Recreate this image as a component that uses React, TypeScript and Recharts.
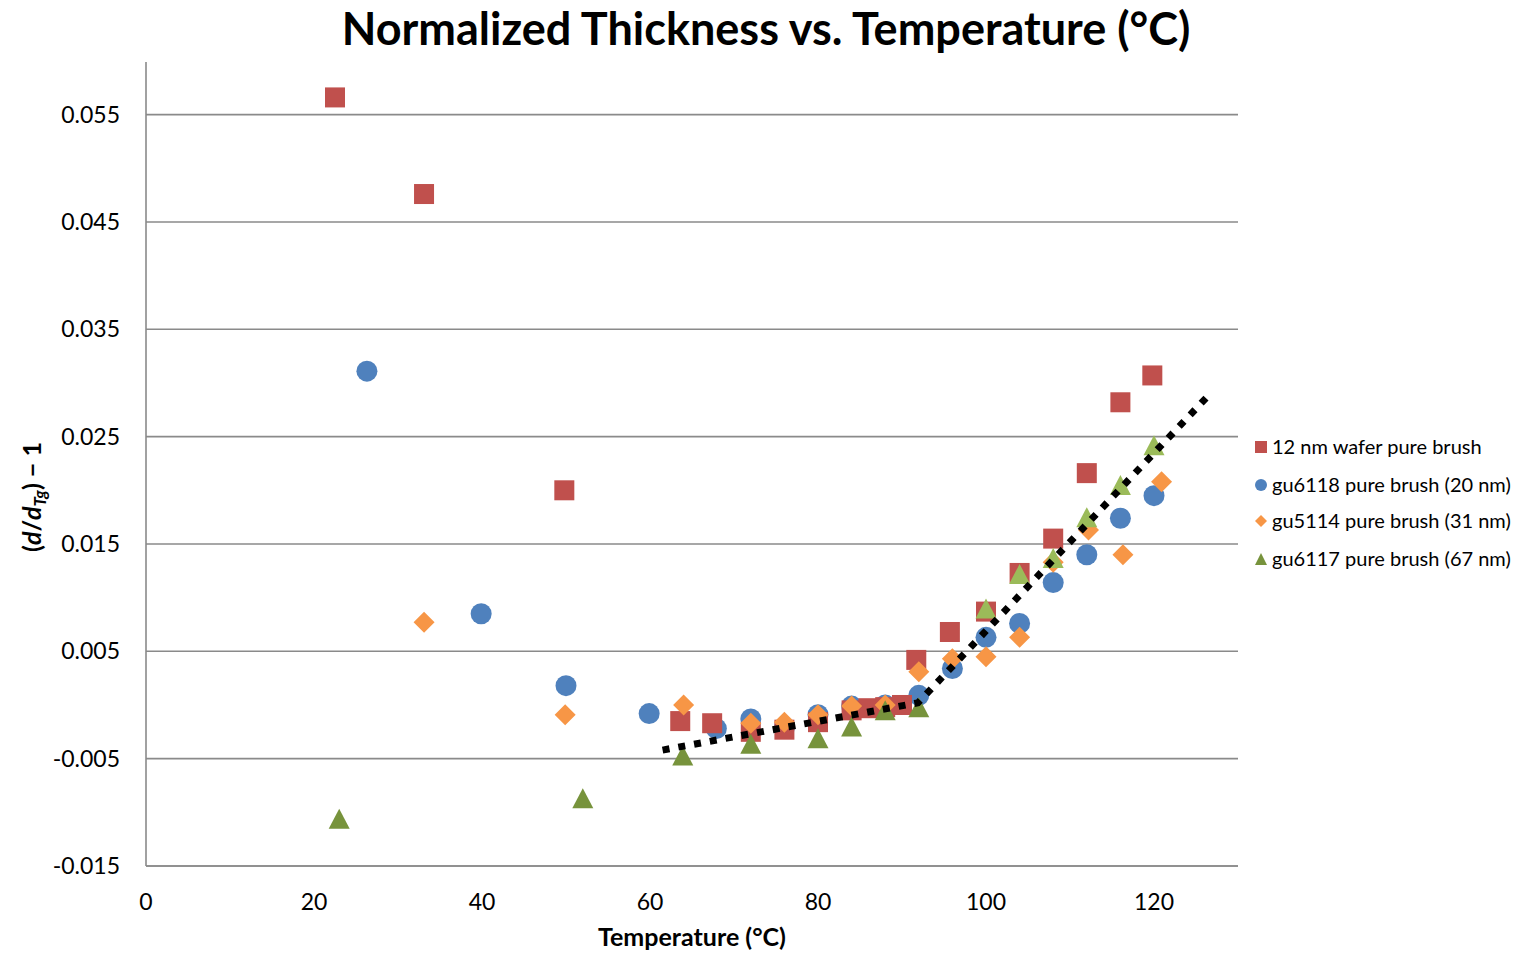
import React from 'react';
import { ScatterChart, Scatter, XAxis, YAxis, CartesianGrid, Cell } from 'recharts';

// ---- data ----
const wafer12X = [22.5, 33.1, 49.8, 63.6, 67.4, 72, 76, 80, 84, 86, 88, 90, 91.7, 95.7, 100, 104, 108, 112, 116, 119.8];
const wafer12Y = [0.0566, 0.0476, 0.02, -0.0015, -0.0017, -0.0025, -0.0023, -0.0016, -0.0005, -0.0003, -0.0002, 0.0, 0.0042, 0.0068, 0.0087, 0.0123, 0.0155, 0.0216, 0.0282, 0.0307];

const gu6118X = [26.3, 39.9, 50, 59.9, 67.9, 72, 76, 80, 84, 88, 92, 96, 100, 104, 108, 112, 116, 120];
const gu6118Y = [0.0311, 0.0085, 0.0018, -0.0008, -0.0022, -0.0013, -0.0021, -0.0009, -0.0001, 0.0, 0.0009, 0.0034, 0.0063, 0.0076, 0.0114, 0.014, 0.0174, 0.0195];

const gu5114X = [33.1, 49.9, 64, 72, 76, 80, 84, 88, 92, 96, 100, 104, 108, 112.2, 116.3, 120.9];
const gu5114Y = [0.0077, -0.0009, 0.0, -0.0017, -0.0016, -0.0009, -0.0001, 0.0, 0.0031, 0.0043, 0.0045, 0.0063, 0.0133, 0.0163, 0.014, 0.0208];

const gu6117X = [23, 52, 63.9, 72, 80, 84, 88, 92, 100, 104, 108, 112, 116, 120];
const gu6117Y = [-0.0106, -0.0087, -0.0047, -0.0036, -0.0031, -0.002, -0.0005, -0.0002, 0.009, 0.0122, 0.0137, 0.0175, 0.0205, 0.0242];

const trendX = [61.5, 91.9, 126.2];
const trendY = [-0.0042, 0.0002, 0.0286];

const xTicks = [0, 20, 40, 60, 80, 100, 120];
const yTicks = [-0.015, -0.005, 0.005, 0.015, 0.025, 0.035, 0.045, 0.055];
const Y_MIN = -0.015;
const Y_MAX = 0.0599;

const seriesNames = [
  '12 nm wafer pure brush',
  'gu6118 pure brush (20 nm)',
  'gu5114 pure brush (31 nm)',
  'gu6117 pure brush (67 nm)',
];

const zip = (xs: number[], ys: number[]) => xs.map((x, i) => ({ x, y: ys[i] }));

const wafer12 = zip(wafer12X, wafer12Y);
const gu6118 = zip(gu6118X, gu6118Y);
const gu5114 = zip(gu5114X, gu5114Y);
const gu6117 = zip(gu6117X, gu6117Y);
const trend = zip(trendX, trendY);

// ---- styles ----
const RED = '#C0504D';
const BLUE = '#4F81BD';
const ORANGE = '#F79646';
const GREEN_DARK = '#77933C';
const GREEN_LIGHT = '#9BBB59';
const GRID = '#8a8a8a';
const FONT = 'Lato, "Open Sans", sans-serif';

const SquareShape = (p: any) => (
  <rect x={p.cx - 10} y={p.cy - 10} width={20} height={20} fill={p.fill} />
);
const CircleShape = (p: any) => <circle cx={p.cx} cy={p.cy} r={10.5} fill={p.fill} />;
const DiamondShape = (p: any) => (
  <polygon
    points={`${p.cx},${p.cy - 10.5} ${p.cx + 10.5},${p.cy} ${p.cx},${p.cy + 10.5} ${p.cx - 10.5},${p.cy}`}
    fill={p.fill}
  />
);
const TriangleShape = (p: any) => (
  <polygon
    points={`${p.cx},${p.cy - 10} ${p.cx + 10.5},${p.cy + 10} ${p.cx - 10.5},${p.cy + 10}`}
    fill={p.fill}
  />
);
const NoShape = () => <g />;

const XLabel = (props: any) => {
  const vb = props.viewBox || {};
  return (
    <text
      x={vb.x + vb.width / 2}
      y={946}
      textAnchor="middle"
      fontFamily={FONT}
      fontWeight="bold"
      fontSize={25}
      fill="#000"
    >
      Temperature (°C)
    </text>
  );
};

const YLabel = (props: any) => {
  const vb = props.viewBox || {};
  const cx = 41;
  const cy = vb.y + vb.height / 2 + 33;
  return (
    <text
      x={cx}
      y={cy}
      transform={`rotate(-90 ${cx} ${cy})`}
      textAnchor="middle"
      fontFamily={FONT}
      fontWeight="bold"
      fontSize={25}
      fill="#000"
    >
      (<tspan fontStyle="italic">d</tspan>/<tspan fontStyle="italic">d</tspan>
      <tspan fontStyle="italic" fontSize={17} dy={5}>Tg</tspan>
      <tspan dy={-5}>) − 1</tspan>
    </text>
  );
};

const legendMarker = (i: number, cx: number, cy: number) => {
  if (i === 0) return <rect x={cx - 6} y={cy - 6} width={12} height={12} fill={RED} />;
  if (i === 1) return <circle cx={cx} cy={cy} r={6} fill={BLUE} />;
  if (i === 2)
    return (
      <polygon points={`${cx},${cy - 6} ${cx + 6},${cy} ${cx},${cy + 6} ${cx - 6},${cy}`} fill={ORANGE} />
    );
  return (
    <polygon points={`${cx},${cy - 6} ${cx + 6},${cy + 6} ${cx - 6},${cy + 6}`} fill={GREEN_DARK} />
  );
};

const legendRows = [447, 485, 521, 559];

const gridRows = (args: any) => {
  const off = (args && args.offset) || {};
  const top = typeof off.top === 'number' ? off.top : 62;
  const h = typeof off.height === 'number' ? off.height : 804;
  return yTicks.map((t) => top + ((Y_MAX - t) / (Y_MAX - Y_MIN)) * h);
};

export default function App() {
  return (
    <div style={{ position: 'absolute', left: 0, top: 0, width: 1522, height: 953, background: '#fff' }}>
      <ScatterChart
        width={1522}
        height={953}
        margin={{ top: 62, right: 284, bottom: 0, left: 0 }}
      >
        <CartesianGrid
          vertical={false}
          stroke={GRID}
          strokeWidth={1.6}
          horizontalCoordinatesGenerator={gridRows}
        />
        <XAxis
          type="number"
          dataKey="x"
          domain={[0, 130]}
          ticks={xTicks}
          allowDataOverflow
          height={87}
          tickLine={false}
          tickSize={0}
          tickMargin={28}
          axisLine={{ stroke: GRID, strokeWidth: 1.6 }}
          tick={{ fontFamily: FONT, fontSize: 23, fill: '#000' }}
          label={<XLabel />}
        />
        <YAxis
          type="number"
          dataKey="y"
          domain={[Y_MIN, Y_MAX]}
          ticks={yTicks}
          allowDataOverflow
          width={146}
          tickLine={false}
          tickSize={0}
          tickMargin={26}
          axisLine={{ stroke: GRID, strokeWidth: 1.6 }}
          tick={{ fontFamily: FONT, fontSize: 23, fill: '#000' }}
          tickFormatter={(v: number) => v.toFixed(3)}
          label={<YLabel />}
        />
        <Scatter name={seriesNames[1]} data={gu6118} fill={BLUE} shape={<CircleShape />} isAnimationActive={false} />
        <Scatter name={seriesNames[0]} data={wafer12} fill={RED} shape={<SquareShape />} isAnimationActive={false} />
        <Scatter name={seriesNames[2]} data={gu5114} fill={ORANGE} shape={<DiamondShape />} isAnimationActive={false} />
        <Scatter name={seriesNames[3]} data={gu6117} fill={GREEN_DARK} shape={<TriangleShape />} isAnimationActive={false}>
          {gu6117.map((d, i) => (
            <Cell key={i} fill={d.x >= 100 ? GREEN_LIGHT : GREEN_DARK} />
          ))}
        </Scatter>
        <Scatter
          name="trend"
          data={trend}
          fill="none"
          shape={<NoShape />}
          line={{ stroke: '#000', strokeWidth: 7, strokeDasharray: '7 9', fill: 'none' }}
          lineType="joint"
          isAnimationActive={false}
        />
      </ScatterChart>
      <svg
        width={1522}
        height={953}
        style={{ position: 'absolute', left: 0, top: 0, pointerEvents: 'none' }}
      >
        <text
          x={766}
          y={45}
          textAnchor="middle"
          fontFamily={FONT}
          fontWeight="bold"
          fontSize={45}
          fill="#000"
        >
          Normalized Thickness vs. Temperature (°C)
        </text>
        {seriesNames.map((name, i) => (
          <g key={name}>
            {legendMarker(i, 1261, legendRows[i])}
            <text
              x={1272}
              y={legendRows[i] + 7}
              fontFamily={FONT}
              fontSize={20}
              fill="#000"
            >
              {name}
            </text>
          </g>
        ))}
      </svg>
    </div>
  );
}
